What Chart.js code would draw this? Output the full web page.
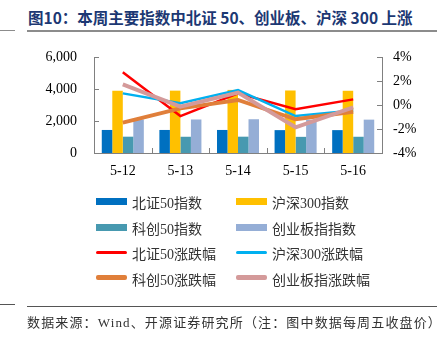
<!DOCTYPE html>
<html>
<head>
<meta charset="utf-8">
<script src="https://cdn.jsdelivr.net/npm/chart.js@4.4.0/dist/chart.umd.min.js"></script>
<style>
    body { margin: 0; background: #fff; }
    #wrap { position: relative; width: 445px; height: 346px; overflow: hidden; }
    #chart { position: absolute; left: 0; top: 0; }
    .title { position: absolute; left: 28px; top: 6px; font: bold 15.5px "Noto Sans CJK SC", sans-serif; color: #1c3873; white-space: nowrap; }
    .rule { position: absolute; background: #8c8c8c; }
    .legend { position: absolute; font: 14px "Liberation Serif", "Noto Sans CJK SC", serif; color: #333; white-space: nowrap; }
    .legend span.sw { position: absolute; left: 0; width: 31px; }
    .legend span.tx { position: absolute; left: 36px; top: -9px; }
    .note { position: absolute; left: 27px; top: 312px; font: 13px "Liberation Serif", "Noto Sans CJK SC", serif; color: #333; white-space: nowrap; letter-spacing: 1.15px; }
</style>
</head>
<body>
<div id="wrap">
    <div class="title">图10：本周主要指数中北证 50、创业板、沪深 300 上涨</div>
    <div class="rule" style="left:27px;top:30px;width:410px;height:2px;"></div>
    <div class="rule" style="left:0;top:30px;width:15px;height:1px;"></div>
    <canvas id="chart" width="445" height="346"></canvas>
    <div id="legend"></div>
    <div class="rule" style="left:27px;top:306px;width:410px;height:1px;background:#555;"></div>
    <div class="rule" style="left:0;top:304px;width:15px;height:1px;background:#555;"></div>
    <div class="note">数据来源：Wind、开源证券研究所（注：图中数据每周五收盘价）</div>
</div>
<script>
const dates = ['5-12', '5-13', '5-14', '5-15', '5-16'];

// 指数点位（左轴）
const bz50Index = [1440, 1440, 1440, 1430, 1430];
const hs300Index = [3890, 3897, 3943, 3907, 3889];
const kc50Index = [1020, 1015, 1020, 1010, 1015];
const cybIndex = [2100, 2095, 2110, 2080, 2085];

// 涨跌幅 %（右轴）
const bz50Chg = [2.72, -0.92, 0.97, -0.36, 0.47];
const hs300Chg = [0.97, 0.14, 1.25, -0.92, -0.45];
const kc50Chg = [-1.47, -0.28, 0.42, -1.19, -0.56];
const cybChg = [1.72, -0.14, 1.03, -1.86, -0.19];

const leftTicks = [0, 2000, 4000, 6000];
const rightTicks = [-4, -2, 0, 2, 4];

const barColors = ['#0070c0', '#ffc000', '#4799b0', '#95aed6'];
const lineColors = ['#ff0000', '#00b0f0', '#e07f3a', '#d49a9a'];
const lineWidths = [2.5, 2.5, 4, 4];

const barNames = ['北证50指数', '沪深300指数', '科创50指数', '创业板指指数'];
const lineNames = ['北证50涨跌幅', '沪深300涨跌幅', '科创50涨跌幅', '创业板指涨跌幅'];
const barData = [bz50Index, hs300Index, kc50Index, cybIndex];
const lineData = [bz50Chg, hs300Chg, kc50Chg, cybChg];

const tickFont = { family: 'Liberation Serif', size: 14 };

let datasets = [];
barData.forEach((d, i) => {
    datasets.push({
        type: 'bar', label: barNames[i], data: d, yAxisID: 'y',
        backgroundColor: barColors[i], barPercentage: 1, categoryPercentage: 0.73,
        order: 10
    });
});
lineData.forEach((d, i) => {
    datasets.push({
        type: 'line', label: lineNames[i], data: d, yAxisID: 'y2',
        borderColor: lineColors[i], borderWidth: lineWidths[i], pointRadius: 0,
        tension: 0, fill: false, order: 4 - i
    });
});

// 内向刻度线
const innerTicks = {
    id: 'innerTicks',
    afterDraw(chart) {
        const ctx = chart.ctx;
        const a = chart.chartArea;
        ctx.save();
        ctx.strokeStyle = '#808080';
        ctx.lineWidth = 1;
        ctx.beginPath();
        chart.scales.y.ticks.forEach(t => {
            const p = Math.round(chart.scales.y.getPixelForValue(t.value)) + 0.5;
            ctx.moveTo(a.left, p); ctx.lineTo(a.left + 5, p);
        });
        chart.scales.y2.ticks.forEach(t => {
            const p = Math.round(chart.scales.y2.getPixelForValue(t.value)) + 0.5;
            ctx.moveTo(a.right - 5, p); ctx.lineTo(a.right, p);
        });
        for (let i = 1; i < dates.length; i++) {
            const p = Math.round(chart.scales.x.getPixelForValue(i - 0.5)) + 0.5;
            ctx.moveTo(p, a.bottom); ctx.lineTo(p, a.bottom - 5);
        }
        ctx.stroke();
        ctx.restore();
    }
};

new Chart(document.getElementById('chart'), {
    data: { labels: dates, datasets: datasets },
    options: {
        responsive: false,
        animation: false,
        layout: { padding: { top: 57, left: 0, right: 0, bottom: 0 } },
        plugins: { legend: { display: false }, tooltip: { enabled: false } },
        scales: {
            x: {
                offset: true,
                grid: { display: false, drawTicks: false },
                border: { color: '#808080' },
                ticks: { font: tickFont, color: '#000', padding: 10, maxRotation: 0 },
                afterFit: s => { s.height = 193; }
            },
            y: {
                position: 'left', min: 0, max: 6000,
                afterBuildTicks: s => { s.ticks = leftTicks.map(v => ({ value: v })); },
                grid: { display: false, drawTicks: false },
                border: { color: '#808080' },
                ticks: { font: tickFont, color: '#000', padding: 17,
                    callback: v => v.toLocaleString('en-US') },
                afterFit: s => { s.width = 94; }
            },
            y2: {
                position: 'right', min: -4, max: 4,
                afterBuildTicks: s => { s.ticks = rightTicks.map(v => ({ value: v })); },
                grid: { display: false, drawTicks: false },
                border: { color: '#808080' },
                ticks: { font: tickFont, color: '#000', padding: 11, callback: v => v + '%' },
                afterFit: s => { s.width = 63; }
            }
        }
    },
    plugins: [innerTicks]
});

// 图例：两列四行
const legendBox = document.getElementById('legend');
const allNames = barNames.concat(lineNames);
allNames.forEach((name, i) => {
    const col = i % 2, row = Math.floor(i / 2);
    const item = document.createElement('div');
    item.className = 'legend';
    item.style.left = (96 + col * 140) + 'px';
    item.style.top = (201 + row * 25.5) + 'px';
    const sw = document.createElement('span');
    sw.className = 'sw';
    if (i < 4) {
        sw.style.height = '7px'; sw.style.top = '-3px';
        sw.style.background = barColors[i];
    } else {
        const h = lineWidths[i - 4] + 0.5;
        sw.style.height = h + 'px'; sw.style.top = (-h / 2) + 'px';
        sw.style.borderRadius = '2px';
        sw.style.background = lineColors[i - 4];
    }
    const tx = document.createElement('span');
    tx.className = 'tx';
    tx.textContent = name;
    item.appendChild(sw);
    item.appendChild(tx);
    legendBox.appendChild(item);
});
</script>
</body>
</html>
